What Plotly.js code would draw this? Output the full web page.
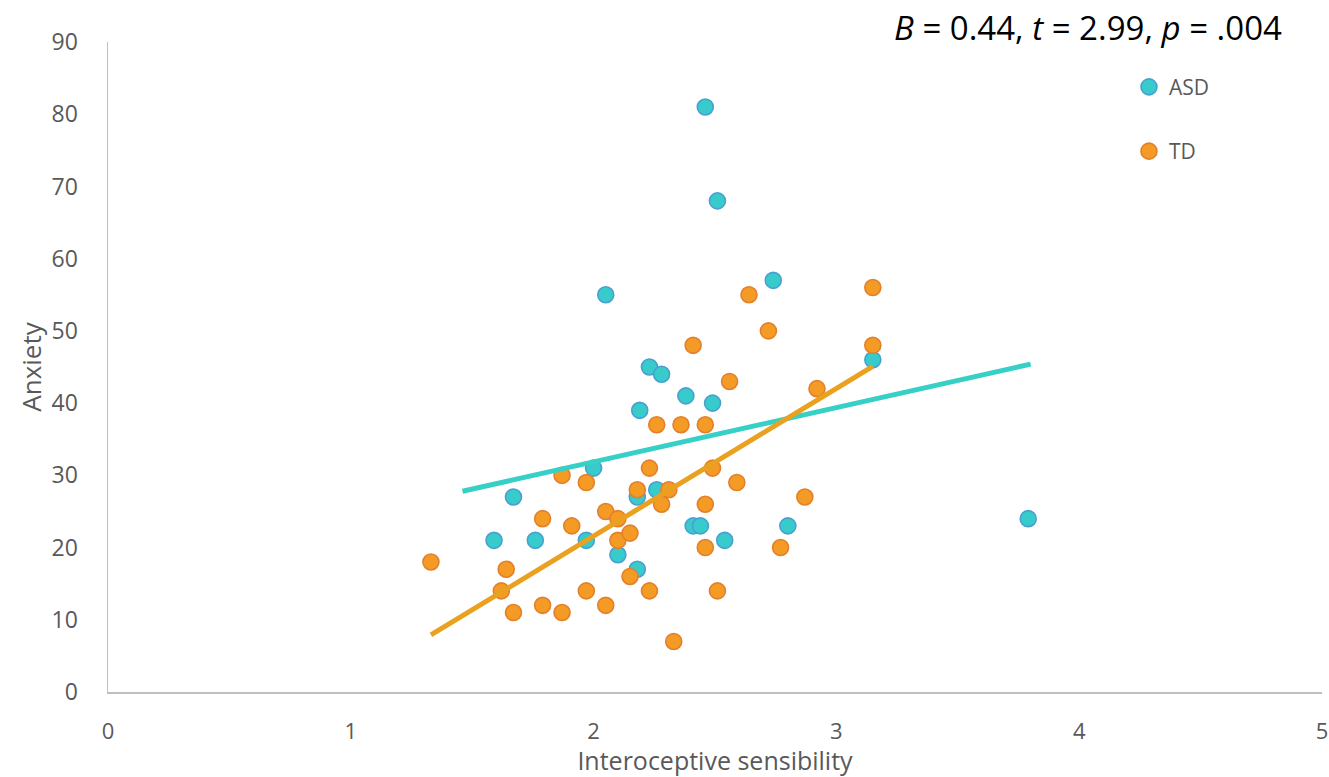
<!DOCTYPE html>
<html>
<head>
<meta charset="utf-8">
<script src="https://cdn.plot.ly/plotly-3.0.1.min.js"></script>
<style>
  html, body { margin: 0; padding: 0; background: #ffffff; }
  #chart { width: 1329px; height: 777px; }
</style>
</head>
<body>
<div id="chart"></div>
<script>
// Interoceptive sensibility vs anxiety, per group
const asdX = [1.59, 1.67, 1.76, 1.97, 2.00, 2.05, 2.10, 2.18, 2.18, 2.19, 2.23, 2.26,
              2.28, 2.38, 2.41, 2.44, 2.46, 2.49, 2.51, 2.54, 2.74, 2.80, 3.15, 3.79];
const asdY = [21, 27, 21, 21, 31, 55, 19, 27, 17, 39, 45, 28,
              44, 41, 23, 23, 81, 40, 68, 21, 57, 23, 46, 24];

const tdX = [1.33, 1.62, 1.64, 1.67, 1.79, 1.79, 1.87, 1.87, 1.91, 1.97, 1.97, 2.05,
             2.05, 2.10, 2.10, 2.15, 2.15, 2.18, 2.23, 2.23, 2.26, 2.28, 2.31, 2.33,
             2.36, 2.41, 2.46, 2.46, 2.46, 2.49, 2.51, 2.56, 2.59, 2.64, 2.72, 2.77,
             2.87, 2.92, 3.15, 3.15];
const tdY = [18, 14, 17, 11, 12, 24, 11, 30, 23, 29, 14, 25,
             12, 24, 21, 22, 16, 28, 31, 14, 37, 26, 28, 7,
             37, 48, 37, 26, 20, 31, 14, 43, 29, 55, 50, 20,
             27, 42, 56, 48];

// Linear trend lines (end points)
const asdFitX = [1.46, 3.80];
const asdFitY = [27.8, 45.4];
const tdFitX = [1.33, 3.15];
const tdFitY = [7.9, 45.1];

const xTicks = [0, 1, 2, 3, 4, 5];
const yTicks = [0, 10, 20, 30, 40, 50, 60, 70, 80, 90];

const groupNames = ['ASD', 'TD'];
const statText = '<i>B</i> = 0.44, <i>t</i> = 2.99, <i>p</i> = .004';

const asdFill = '#38CBCB', asdEdge = '#4A9FD2';
const tdFill = '#F39B24', tdEdge = '#E47F2C';

const traces = [
  {
    x: asdX, y: asdY, type: 'scatter', mode: 'markers', name: groupNames[0],
    legendgroup: 'g1',
    marker: { size: 16, color: asdFill, line: { color: asdEdge, width: 1.6 } }
  },
  {
    x: tdX, y: tdY, type: 'scatter', mode: 'markers', name: groupNames[1],
    legendgroup: 'g2',
    marker: { size: 16, color: tdFill, line: { color: tdEdge, width: 1.6 } }
  },
  {
    x: asdFitX, y: asdFitY, type: 'scatter', mode: 'lines', showlegend: false,
    line: { color: '#36D0C6', width: 5 }
  },
  {
    x: tdFitX, y: tdFitY, type: 'scatter', mode: 'lines', showlegend: false,
    line: { color: '#E9A11F', width: 5 }
  }
];

const tickFontY = { family: 'Open Sans, sans-serif', size: 23, color: '#595959' };
const tickFontX = { family: 'Open Sans, sans-serif', size: 22, color: '#595959' };
const xTitleFont = { family: 'Open Sans, sans-serif', size: 25, color: '#595959' };
const yTitleFont = { family: 'Open Sans, sans-serif', size: 26, color: '#595959' };

const layout = {
  width: 1329, height: 777,
  paper_bgcolor: '#ffffff', plot_bgcolor: '#ffffff',
  margin: { l: 108, r: 7, t: 42, b: 85 },
  showlegend: true,
  legend: {
    x: 0.841, y: 0.962, xanchor: 'left', yanchor: 'top',
    font: { family: 'Open Sans, sans-serif', size: 21, color: '#595959' },
    tracegroupgap: 34, traceorder: 'grouped', itemwidth: 30,
    bgcolor: 'rgba(0,0,0,0)'
  },
  xaxis: {
    range: [0, 5], tickvals: xTicks, ticktext: xTicks.map(String),
    showgrid: false, zeroline: false,
    showline: true, linecolor: '#BFBFBF', linewidth: 1.5,
    ticks: '', ticklabelstandoff: 19, tickfont: tickFontX,
    title: { text: 'Interoceptive sensibility', font: xTitleFont, standoff: 1 }
  },
  yaxis: {
    range: [0, 90], tickvals: yTicks, ticktext: yTicks.map(String),
    showgrid: false, zeroline: false,
    showline: true, linecolor: '#BFBFBF', linewidth: 1.5,
    ticks: '', ticklabelstandoff: 24, tickfont: tickFontY,
    title: { text: 'Anxiety', font: yTitleFont, standoff: 2 }
  },
  annotations: [
    {
      xref: 'paper', yref: 'paper', x: 0.9687, y: 1.023, xanchor: 'right', yanchor: 'middle',
      text: statText, showarrow: false,
      font: { family: 'Open Sans, sans-serif', size: 33, color: '#000000' }
    }
  ]
};

Plotly.newPlot('chart', traces, layout, { displayModeBar: false, staticPlot: true });
</script>
</body>
</html>
